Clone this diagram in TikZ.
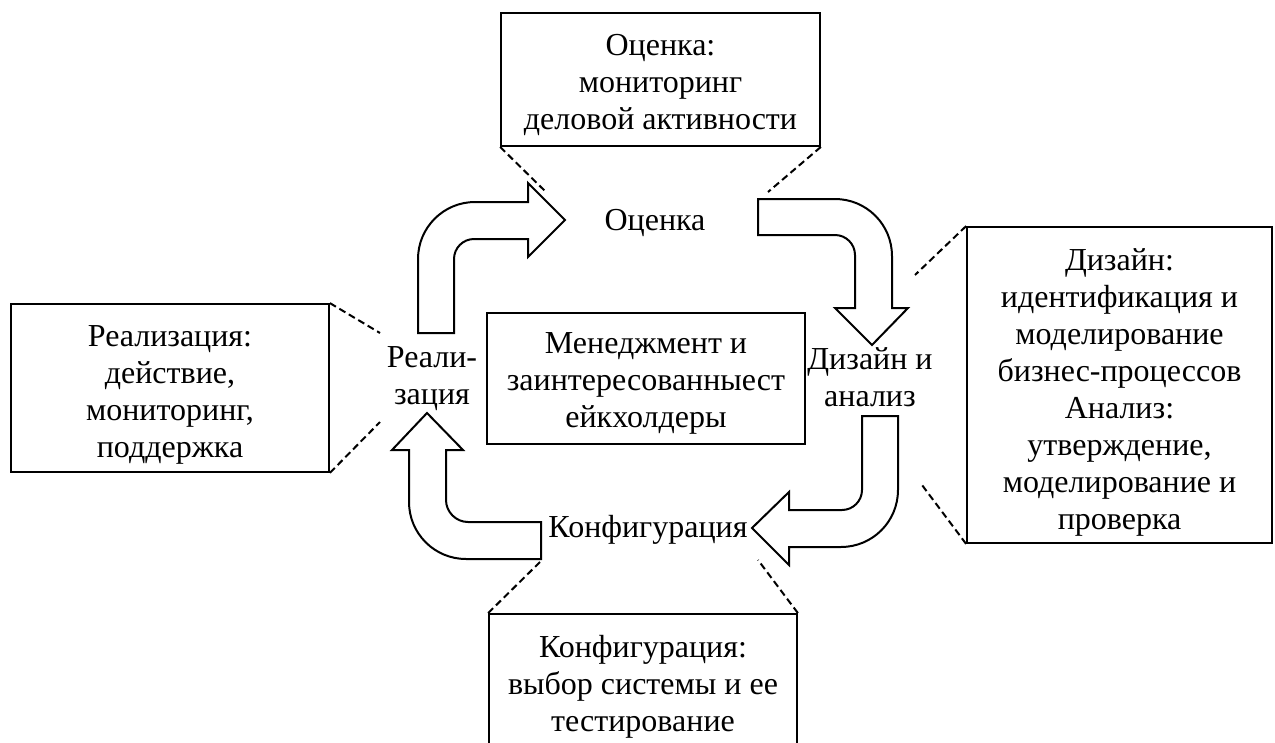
\documentclass[tikz,border=0pt]{standalone}
\usepackage{fontspec}
\setmainfont{Liberation Serif}
\begin{document}
\begin{tikzpicture}[x=1pt,y=-1pt,
  box/.style={draw, line width=1.8pt, inner sep=0pt},
  lbl/.style={inner sep=0pt, align=center, yshift=-5pt, font=\fontsize{32}{37}\selectfont},
  barrow/.style={draw, fill=white, line width=2pt, line join=miter},
  dsh/.style={line width=2pt, dash pattern=on 7pt off 4pt}]
\useasboundingbox (0,0) rectangle (1275,742);
\clip (0,0) rectangle (1275,742);

% boxes
\node[box, minimum width=319pt, minimum height=133pt] (eval) at (660.5,79.5) {};
\node[lbl] (tEval) at (eval.center) {Оценка:\\мониторинг\\деловой активности};
\node[box, minimum width=318pt, minimum height=168pt] (impl) at (170,388) {};
\node[lbl, yshift=-2pt] (tImpl) at (impl.center) {Реализация:\\действие,\\мониторинг,\\поддержка};
\node[box, minimum width=305pt, minimum height=316pt] (des) at (1119.5,385) {};
\node[lbl, yshift=-2pt] (tDes) at (des.center) {Дизайн:\\идентификация и\\моделирование\\бизнес-процессов\\Анализ:\\утверждение,\\моделирование и\\проверка};
\node[box, minimum width=308pt, minimum height=136pt] (conf) at (643,682) {};
\node[lbl] (tConf) at (conf.center) {Конфигурация:\\выбор системы и ее\\тестирование};
\node[box, minimum width=318pt, minimum height=131pt] (mgmt) at (646,378.5) {};
\node[lbl] (tMgmt) at (mgmt.center) {Менеджмент и\\заинтересованныест\\ейкхолдеры};

% block arrows
\draw[barrow] (418,333) -- (418,259) .. controls (418,227.5) and (443.5,202) .. (475,202) -- (528,202) -- (528,183) -- (565,220) -- (528,257) -- (528,239) -- (474,239) .. controls (463,239) and (454,248) .. (454,259) -- (454,333) -- cycle;
\draw[barrow] (758,199) -- (835,199) .. controls (866.5,199) and (892,224.5) .. (892,256) -- (892,308) -- (908,308) -- (872,345) -- (835,308) -- (855,308) -- (855,255) .. controls (855,244) and (846,235) .. (835,235) -- (758,235) -- cycle;
\draw[barrow] (862,416) -- (898,416) -- (898,490) .. controls (898,521.5) and (872.5,547) .. (841,547) -- (789,547) -- (789,565) -- (752,528) -- (789,492) -- (789,510) -- (842,510) .. controls (853,510) and (862,501) .. (862,490) -- cycle;
\draw[barrow] (541,522) -- (541,559) -- (466,559) .. controls (434.5,559) and (409,533.5) .. (409,502) -- (409,450) -- (392,450) -- (427,413) -- (463,450) -- (446,450) -- (446,500) .. controls (446,512) and (456,522) .. (468,522) -- cycle;

% stage labels
\node[lbl, yshift=2pt] (lEval) at (655,220) {Оценка};
\node[lbl] (lImpl) at (432,374) {Реали-\\зация};
\node[lbl, yshift=5pt] (lDes) at (870,377) {Дизайн и\\анализ};
\node[lbl, yshift=2pt] (lConf) at (648,527) {Конфигурация};

% dashed callout lines
\coordinate (e1) at (547,193);
\coordinate (e2) at (768,192);
\coordinate (i1) at (380,333);
\coordinate (i2) at (380,422);
\coordinate (d1) at (915,275);
\coordinate (d2) at (922,485);
\coordinate (c1) at (540,562);
\coordinate (c2) at (758,560);
\draw[dsh] (eval.south west) -- (e1);
\draw[dsh] (eval.south east) -- (e2);
\draw[dsh] (impl.north east) -- (i1);
\draw[dsh] (impl.south east) -- (i2);
\draw[dsh] (des.north west) -- (d1);
\draw[dsh] (des.south west) -- (d2);
\draw[dsh] (conf.north west) -- (c1);
\draw[dsh] (conf.north east) -- (c2);
\end{tikzpicture}
\end{document}
